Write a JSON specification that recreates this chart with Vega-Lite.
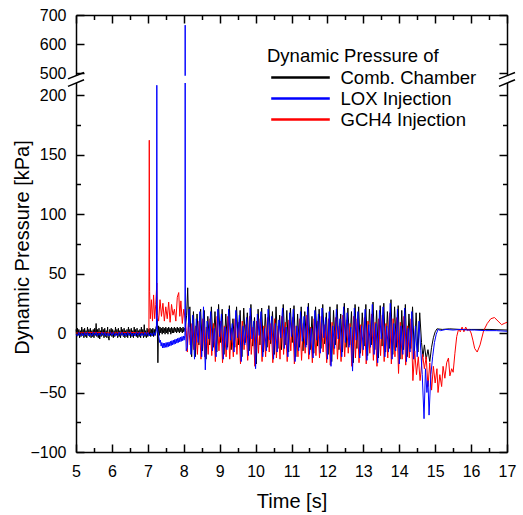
{
"$schema": "https://vega.github.io/schema/vega-lite/v6.json",
"width": 431, "height": 437,
"autosize": {"type": "none"},
"padding": {"left": 76, "top": 15, "right": 16, "bottom": 63},
"background": "white",
"config": {
  "view": {"stroke": null},
  "font": "Liberation Sans",
  "mark": {"invalid": "filter"},
  "axis": {"grid": false, "domainColor": "black", "domainWidth": 1.5, "tickColor": "black", "tickWidth": 1.5, "labelColor": "black", "labelFont": "Liberation Sans", "labelFontSize": 16, "titleFont": "Liberation Sans", "titleFontSize": 20, "titleFontWeight": "normal", "titleColor": "black", "labelFlush": false, "labelOverlap": false}
},
"datasets": {
"c": [
{"t":5.00,"v":3},{"t":5.02,"v":-3},{"t":5.04,"v":4},{"t":5.06,"v":-2},{"t":5.08,"v":3},{"t":5.10,"v":-4},{"t":5.12,"v":2},{"t":5.14,"v":-3},{"t":5.16,"v":5},{"t":5.18,"v":-2},{"t":5.20,"v":3},{"t":5.22,"v":-4},{"t":5.24,"v":4},{"t":5.26,"v":-3},{"t":5.28,"v":2},{"t":5.30,"v":-4},{"t":5.32,"v":5},{"t":5.34,"v":-2},{"t":5.36,"v":3},{"t":5.38,"v":-3},{"t":5.40,"v":4},{"t":5.42,"v":-4},{"t":5.44,"v":2},{"t":5.46,"v":-3},{"t":5.48,"v":3},{"t":5.50,"v":-4},{"t":5.52,"v":4},{"t":5.54,"v":-2},{"t":5.56,"v":8},{"t":5.58,"v":-3},{"t":5.60,"v":3},{"t":5.62,"v":-4},{"t":5.64,"v":4},{"t":5.66,"v":-5},{"t":5.68,"v":2},{"t":5.70,"v":-3},{"t":5.72,"v":5},{"t":5.74,"v":-2},{"t":5.76,"v":3},{"t":5.78,"v":-4},{"t":5.80,"v":4},{"t":5.82,"v":-3},{"t":5.84,"v":2},{"t":5.86,"v":-4},{"t":5.88,"v":5},{"t":5.90,"v":-3},{"t":5.92,"v":-6},{"t":5.94,"v":3},{"t":5.96,"v":-2},{"t":5.98,"v":4},{"t":6.00,"v":-3},{"t":6.02,"v":3},{"t":6.04,"v":-4},{"t":6.06,"v":2},{"t":6.08,"v":-3},{"t":6.10,"v":5},{"t":6.12,"v":-2},{"t":6.14,"v":3},{"t":6.16,"v":-4},{"t":6.18,"v":4},{"t":6.20,"v":-3},{"t":6.22,"v":2},{"t":6.24,"v":-4},{"t":6.26,"v":5},{"t":6.28,"v":-2},{"t":6.30,"v":3},{"t":6.32,"v":-3},{"t":6.34,"v":4},{"t":6.36,"v":-4},{"t":6.38,"v":2},{"t":6.40,"v":-3},{"t":6.42,"v":3},{"t":6.44,"v":-4},{"t":6.46,"v":5},{"t":6.48,"v":-2},{"t":6.50,"v":3},{"t":6.52,"v":-4},{"t":6.54,"v":4},{"t":6.56,"v":-3},{"t":6.58,"v":2},{"t":6.60,"v":-4},{"t":6.62,"v":5},{"t":6.64,"v":-2},{"t":6.66,"v":3},{"t":6.68,"v":-3},{"t":6.70,"v":4},{"t":6.72,"v":-4},{"t":6.74,"v":2},{"t":6.76,"v":-3},{"t":6.78,"v":3},{"t":6.80,"v":-4},{"t":6.82,"v":5},{"t":6.84,"v":-2},{"t":6.86,"v":3},{"t":6.88,"v":-4},{"t":6.90,"v":7},{"t":6.92,"v":-3},{"t":6.94,"v":2},{"t":6.96,"v":-4},{"t":6.98,"v":4},{"t":7.00,"v":-3},{"t":7.02,"v":3},{"t":7.04,"v":-2},{"t":7.06,"v":4},{"t":7.08,"v":-3},{"t":7.10,"v":3},{"t":7.12,"v":-2},{"t":7.14,"v":4},{"t":7.16,"v":-3},{"t":7.18,"v":3},{"t":7.20,"v":-2},{"t":7.22,"v":4},{"t":7.24,"v":6},{"t":7.26,"v":12},{"t":7.28,"v":-25},
{"t":7.30,"v":6},{"t":7.32,"v":-2},{"t":7.34,"v":5},{"t":7.36,"v":0},{"t":7.38,"v":4},{"t":7.40,"v":-1},{"t":7.42,"v":5},{"t":7.44,"v":0},{"t":7.46,"v":4},{"t":7.48,"v":-1},{"t":7.50,"v":5},{"t":7.52,"v":0},{"t":7.54,"v":4},{"t":7.56,"v":-1},{"t":7.58,"v":5},{"t":7.60,"v":1},{"t":7.62,"v":4},{"t":7.64,"v":-1},{"t":7.66,"v":5},{"t":7.68,"v":0},{"t":7.70,"v":4},{"t":7.72,"v":0},{"t":7.74,"v":5},{"t":7.76,"v":1},{"t":7.78,"v":4},{"t":7.80,"v":0},{"t":7.82,"v":5},{"t":7.84,"v":1},{"t":7.86,"v":4},{"t":7.88,"v":0},{"t":7.90,"v":5},{"t":7.92,"v":1},{"t":7.94,"v":4},{"t":7.96,"v":0},{"t":7.98,"v":5},{"t":8.00,"v":1},{"t":8.02,"v":4},{"t":8.04,"v":2},{"t":8.08,"v":15},{"t":8.11,"v":38},{"t":8.14,"v":5},
{"t":8.17,"v":22},{"t":8.22,"v":-20},{"t":8.27,"v":18},{"t":8.32,"v":-20},{"t":8.37,"v":16},{"t":8.42,"v":-10},{"t":8.47,"v":20},{"t":8.52,"v":-15},{"t":8.57,"v":19},{"t":8.62,"v":-22},{"t":8.67,"v":14},{"t":8.72,"v":-10},{"t":8.77,"v":22},{"t":8.82,"v":-12},{"t":8.87,"v":18},{"t":8.92,"v":-16},{"t":8.97,"v":24},{"t":9.02,"v":-8},{"t":9.07,"v":20},{"t":9.12,"v":-18},{"t":9.17,"v":16},{"t":9.22,"v":-12},{"t":9.27,"v":23},{"t":9.32,"v":-14},{"t":9.37,"v":12},{"t":9.42,"v":-12},{"t":9.47,"v":22},{"t":9.52,"v":-10},{"t":9.57,"v":19},{"t":9.62,"v":-20},{"t":9.67,"v":21},{"t":9.72,"v":-8},{"t":9.77,"v":17},{"t":9.82,"v":-15},{"t":9.87,"v":24},{"t":9.92,"v":-11},{"t":9.97,"v":13},{"t":10.02,"v":-26},{"t":10.07,"v":20},{"t":10.12,"v":-10},{"t":10.17,"v":21},{"t":10.22,"v":-16},{"t":10.27,"v":16},{"t":10.32,"v":-12},{"t":10.37,"v":23},{"t":10.42,"v":-9},{"t":10.47,"v":18},{"t":10.52,"v":-18},{"t":10.57,"v":22},{"t":10.62,"v":-13},{"t":10.67,"v":15},{"t":10.72,"v":-14},{"t":10.77,"v":24},{"t":10.82,"v":-10},{"t":10.87,"v":19},{"t":10.92,"v":-16},{"t":10.97,"v":21},{"t":11.02,"v":-8},{"t":11.07,"v":23},{"t":11.12,"v":-20},{"t":11.17,"v":16},{"t":11.22,"v":-12},{"t":11.27,"v":22},{"t":11.32,"v":-15},{"t":11.37,"v":18},{"t":11.42,"v":-10},{"t":11.47,"v":25},{"t":11.52,"v":-14},{"t":11.57,"v":14},{"t":11.62,"v":-17},{"t":11.67,"v":22},{"t":11.72,"v":-11},{"t":11.77,"v":20},{"t":11.82,"v":-13},{"t":11.87,"v":24},{"t":11.92,"v":-9},{"t":11.97,"v":17},{"t":12.02,"v":-18},{"t":12.07,"v":22},{"t":12.12,"v":-24},{"t":12.17,"v":19},{"t":12.22,"v":-10},{"t":12.27,"v":24},{"t":12.32,"v":-14},{"t":12.37,"v":16},{"t":12.42,"v":-16},{"t":12.47,"v":25},{"t":12.52,"v":-12},{"t":12.57,"v":21},{"t":12.62,"v":-10},{"t":12.67,"v":18},{"t":12.72,"v":-25},{"t":12.77,"v":24},{"t":12.82,"v":-13},{"t":12.87,"v":22},{"t":12.92,"v":-17},{"t":12.97,"v":17},{"t":13.02,"v":-11},{"t":13.07,"v":24},{"t":13.12,"v":-19},{"t":13.17,"v":20},{"t":13.22,"v":-10},{"t":13.27,"v":26},{"t":13.32,"v":-14},{"t":13.37,"v":19},{"t":13.42,"v":-21},{"t":13.47,"v":23},{"t":13.52,"v":-11},{"t":13.57,"v":25},{"t":13.62,"v":-16},{"t":13.67,"v":18},{"t":13.72,"v":-13},{"t":13.77,"v":28},{"t":13.82,"v":-18},{"t":13.87,"v":22},{"t":13.92,"v":-12},{"t":13.97,"v":23},{"t":14.02,"v":-22},{"t":14.07,"v":19},{"t":14.12,"v":-14},{"t":14.17,"v":24},{"t":14.22,"v":-20},{"t":14.27,"v":16},{"t":14.32,"v":-13},{"t":14.37,"v":22},{"t":14.42,"v":-18},{"t":14.47,"v":17},{"t":14.52,"v":-16},{"t":14.57,"v":17},{"t":14.62,"v":-8},
{"t":14.66,"v":-20},{"t":14.70,"v":-10},{"t":14.75,"v":-22},{"t":14.80,"v":-14},{"t":14.85,"v":-24},{"t":14.90,"v":-12},{"t":14.95,"v":-4},{"t":15.00,"v":1},{"t":15.05,"v":3.5},{"t":15.20,"v":3},{"t":15.40,"v":3.5},{"t":15.70,"v":3},{"t":16.00,"v":3},{"t":16.50,"v":3},{"t":17.00,"v":2.5}
],
"l": [
{"t":5.00,"v":-1},{"t":5.04,"v":-2.5},{"t":5.08,"v":0.5},{"t":5.12,"v":-2.5},{"t":5.16,"v":0},{"t":5.20,"v":-2.5},{"t":5.24,"v":0.5},{"t":5.28,"v":-2},{"t":5.32,"v":0.5},{"t":5.36,"v":-2.5},{"t":5.40,"v":0},{"t":5.44,"v":-2.5},{"t":5.48,"v":0.5},{"t":5.52,"v":-2},{"t":5.56,"v":0.5},{"t":5.60,"v":-2.5},{"t":5.64,"v":0},{"t":5.68,"v":-2.5},{"t":5.72,"v":0.5},{"t":5.76,"v":-2},{"t":5.80,"v":0.5},{"t":5.84,"v":-2.5},{"t":5.88,"v":0},{"t":5.92,"v":-2.5},{"t":5.96,"v":0.5},{"t":6.00,"v":-2},{"t":6.04,"v":0.5},{"t":6.08,"v":-2.5},{"t":6.12,"v":0},{"t":6.16,"v":-2.5},{"t":6.20,"v":0.5},{"t":6.24,"v":-2},{"t":6.28,"v":0.5},{"t":6.32,"v":-2.5},{"t":6.36,"v":0},{"t":6.40,"v":-2.5},{"t":6.44,"v":0.5},{"t":6.48,"v":-2},{"t":6.52,"v":0.5},{"t":6.56,"v":-2.5},{"t":6.60,"v":0},{"t":6.64,"v":-2.5},{"t":6.68,"v":0.5},{"t":6.72,"v":-2},{"t":6.76,"v":0.5},{"t":6.80,"v":-2.5},{"t":6.84,"v":0},{"t":6.88,"v":-2.5},{"t":6.92,"v":0.5},{"t":6.96,"v":-2},{"t":7.00,"v":0.5},{"t":7.04,"v":-2.5},{"t":7.08,"v":0},{"t":7.12,"v":-2.5},{"t":7.16,"v":0.5},{"t":7.20,"v":-2},{"t":7.22,"v":0},{"t":7.24,"v":3},{"t":7.25,"v":215},{"t":7.26,"v":5},
{"t":7.29,"v":0},{"t":7.31,"v":-4},{"t":7.33,"v":-8},{"t":7.35,"v":-6},{"t":7.37,"v":-11},{"t":7.39,"v":-8},{"t":7.41,"v":-12.5},{"t":7.43,"v":-8.5},{"t":7.45,"v":-12.5},{"t":7.47,"v":-8.5},{"t":7.49,"v":-12},{"t":7.51,"v":-8},{"t":7.53,"v":-12},{"t":7.55,"v":-8},{"t":7.57,"v":-11.5},{"t":7.59,"v":-7.5},{"t":7.61,"v":-11},{"t":7.63,"v":-7},{"t":7.65,"v":-10.5},{"t":7.67,"v":-6.5},{"t":7.69,"v":-10},{"t":7.71,"v":-6},{"t":7.73,"v":-9.5},{"t":7.75,"v":-5.5},{"t":7.77,"v":-9},{"t":7.79,"v":-5},{"t":7.81,"v":-8.5},{"t":7.83,"v":-4.5},{"t":7.85,"v":-8},{"t":7.87,"v":-4},{"t":7.89,"v":-7.5},{"t":7.91,"v":-3.5},{"t":7.93,"v":-7},{"t":7.95,"v":-3},{"t":7.97,"v":-6.5},{"t":7.99,"v":-2.5},{"t":8.01,"v":-6},{"t":8.03,"v":-2},{"t":8.035,"v":0},{"t":8.04,"v":665},{"t":8.045,"v":10},{"t":8.07,"v":-15},{"t":8.10,"v":-12},{"t":8.125,"v":5},
{"t":8.15,"v":20},{"t":8.20,"v":-18},{"t":8.25,"v":15},{"t":8.30,"v":-22},{"t":8.35,"v":12},{"t":8.40,"v":-8},{"t":8.45,"v":18},{"t":8.50,"v":-20},{"t":8.55,"v":22},{"t":8.60,"v":-31},{"t":8.65,"v":10},{"t":8.70,"v":-5},{"t":8.75,"v":18},{"t":8.80,"v":-15},{"t":8.85,"v":4},{"t":8.90,"v":-20},{"t":8.95,"v":20},{"t":9.00,"v":-3},{"t":9.05,"v":16},{"t":9.10,"v":-22},{"t":9.15,"v":5},{"t":9.20,"v":-14},{"t":9.25,"v":20},{"t":9.30,"v":-6},{"t":9.35,"v":8},{"t":9.40,"v":-16},{"t":9.45,"v":19},{"t":9.50,"v":-4},{"t":9.55,"v":15},{"t":9.60,"v":-24},{"t":9.65,"v":6},{"t":9.70,"v":-10},{"t":9.75,"v":13},{"t":9.80,"v":-19},{"t":9.85,"v":21},{"t":9.90,"v":-5},{"t":9.95,"v":10},{"t":10.00,"v":-30},{"t":10.05,"v":16},{"t":10.10,"v":-2},{"t":10.15,"v":18},{"t":10.20,"v":-20},{"t":10.25,"v":4},{"t":10.30,"v":-15},{"t":10.35,"v":20},{"t":10.40,"v":-6},{"t":10.45,"v":14},{"t":10.50,"v":-22},{"t":10.55,"v":8},{"t":10.60,"v":-16},{"t":10.65,"v":11},{"t":10.70,"v":-4},{"t":10.75,"v":21},{"t":10.80,"v":-13},{"t":10.85,"v":5},{"t":10.90,"v":-20},{"t":10.95,"v":17},{"t":11.00,"v":-3},{"t":11.05,"v":20},{"t":11.10,"v":-24},{"t":11.15,"v":6},{"t":11.20,"v":-15},{"t":11.25,"v":18},{"t":11.30,"v":-7},{"t":11.35,"v":14},{"t":11.40,"v":-12},{"t":11.45,"v":22},{"t":11.50,"v":-18},{"t":11.55,"v":4},{"t":11.60,"v":-21},{"t":11.65,"v":19},{"t":11.70,"v":-6},{"t":11.75,"v":16},{"t":11.80,"v":-17},{"t":11.85,"v":21},{"t":11.90,"v":-4},{"t":11.95,"v":13},{"t":12.00,"v":-22},{"t":12.05,"v":18},{"t":12.10,"v":-28},{"t":12.15,"v":6},{"t":12.20,"v":-13},{"t":12.25,"v":20},{"t":12.30,"v":-5},{"t":12.35,"v":12},{"t":12.40,"v":-20},{"t":12.45,"v":22},{"t":12.50,"v":-8},{"t":12.55,"v":17},{"t":12.60,"v":-12},{"t":12.65,"v":5},{"t":12.70,"v":-32},{"t":12.75,"v":21},{"t":12.80,"v":-6},{"t":12.85,"v":18},{"t":12.90,"v":-21},{"t":12.95,"v":6},{"t":13.00,"v":-14},{"t":13.05,"v":20},{"t":13.10,"v":-23},{"t":13.15,"v":7},{"t":13.20,"v":-12},{"t":13.25,"v":24},{"t":13.30,"v":-18},{"t":13.35,"v":8},{"t":13.40,"v":-25},{"t":13.45,"v":19},{"t":13.50,"v":-5},{"t":13.55,"v":22},{"t":13.60,"v":-20},{"t":13.65,"v":6},{"t":13.70,"v":-16},{"t":13.75,"v":25},{"t":13.80,"v":-22},{"t":13.85,"v":8},{"t":13.90,"v":-15},{"t":13.95,"v":20},{"t":14.00,"v":-26},{"t":14.05,"v":6},{"t":14.10,"v":-18},{"t":14.15,"v":21},{"t":14.20,"v":-24},{"t":14.25,"v":4},{"t":14.30,"v":-16},{"t":14.35,"v":18},{"t":14.40,"v":-22},{"t":14.45,"v":6},{"t":14.50,"v":-20},{"t":14.55,"v":10},{"t":14.60,"v":-15},
{"t":14.64,"v":-35},{"t":14.69,"v":-72},{"t":14.73,"v":-30},{"t":14.77,"v":-50},{"t":14.80,"v":-40},{"t":14.83,"v":-69},{"t":14.88,"v":-35},{"t":14.93,"v":-20},{"t":14.98,"v":-8},{"t":15.03,"v":-1},{"t":15.08,"v":3},{"t":15.15,"v":2},{"t":15.30,"v":3},{"t":15.50,"v":2.5},{"t":15.70,"v":3},{"t":15.90,"v":2.5},{"t":16.10,"v":2.5},{"t":16.40,"v":2},{"t":16.70,"v":2},{"t":17.00,"v":1.5}
],
"g": [
{"t":5.00,"v":0},{"t":5.50,"v":0.5},{"t":6.00,"v":0},{"t":6.50,"v":0.5},{"t":7.00,"v":0},{"t":7.03,"v":0.5},{"t":7.04,"v":162},{"t":7.05,"v":35},{"t":7.07,"v":12},{"t":7.10,"v":28},{"t":7.13,"v":10},{"t":7.16,"v":32},{"t":7.19,"v":12},{"t":7.22,"v":24},{"t":7.25,"v":42},{"t":7.27,"v":15},{"t":7.30,"v":10},{"t":7.34,"v":28},{"t":7.38,"v":14},{"t":7.42,"v":25},{"t":7.46,"v":10},{"t":7.50,"v":22},{"t":7.54,"v":12},{"t":7.58,"v":26},{"t":7.62,"v":9},{"t":7.66,"v":24},{"t":7.70,"v":15},{"t":7.74,"v":20},{"t":7.78,"v":10},{"t":7.82,"v":30},{"t":7.86,"v":34},{"t":7.89,"v":14},{"t":7.92,"v":27},{"t":7.96,"v":8},{"t":8.00,"v":20},{"t":8.04,"v":12},{"t":8.07,"v":2},{"t":8.10,"v":-16},
{"t":8.13,"v":8},{"t":8.18,"v":-10},{"t":8.23,"v":8},{"t":8.28,"v":-14},{"t":8.33,"v":6},{"t":8.38,"v":-18},{"t":8.43,"v":10},{"t":8.48,"v":-22},{"t":8.53,"v":12},{"t":8.58,"v":-20},{"t":8.63,"v":5},{"t":8.68,"v":-18},{"t":8.73,"v":12},{"t":8.78,"v":-19},{"t":8.83,"v":8},{"t":8.88,"v":-24},{"t":8.93,"v":14},{"t":8.98,"v":-15},{"t":9.03,"v":10},{"t":9.08,"v":-25},{"t":9.13,"v":6},{"t":9.18,"v":-20},{"t":9.23,"v":14},{"t":9.28,"v":-22},{"t":9.33,"v":4},{"t":9.38,"v":-20},{"t":9.43,"v":12},{"t":9.48,"v":-18},{"t":9.53,"v":9},{"t":9.58,"v":-26},{"t":9.63,"v":10},{"t":9.68,"v":-14},{"t":9.73,"v":7},{"t":9.78,"v":-23},{"t":9.83,"v":14},{"t":9.88,"v":-18},{"t":9.93,"v":5},{"t":9.98,"v":-28},{"t":10.03,"v":10},{"t":10.08,"v":-17},{"t":10.13,"v":12},{"t":10.18,"v":-24},{"t":10.23,"v":6},{"t":10.28,"v":-20},{"t":10.33,"v":13},{"t":10.38,"v":-16},{"t":10.43,"v":8},{"t":10.48,"v":-25},{"t":10.53,"v":12},{"t":10.58,"v":-21},{"t":10.63,"v":6},{"t":10.68,"v":-22},{"t":10.73,"v":14},{"t":10.78,"v":-18},{"t":10.83,"v":9},{"t":10.88,"v":-24},{"t":10.93,"v":11},{"t":10.98,"v":-15},{"t":11.03,"v":13},{"t":11.08,"v":-26},{"t":11.13,"v":6},{"t":11.18,"v":-20},{"t":11.23,"v":12},{"t":11.28,"v":-23},{"t":11.33,"v":8},{"t":11.38,"v":-17},{"t":11.43,"v":15},{"t":11.48,"v":-22},{"t":11.53,"v":5},{"t":11.58,"v":-25},{"t":11.63,"v":12},{"t":11.68,"v":-19},{"t":11.73,"v":10},{"t":11.78,"v":-21},{"t":11.83,"v":14},{"t":11.88,"v":-16},{"t":11.93,"v":7},{"t":11.98,"v":-25},{"t":12.03,"v":12},{"t":12.08,"v":-27},{"t":12.13,"v":9},{"t":12.18,"v":-18},{"t":12.23,"v":13},{"t":12.28,"v":-22},{"t":12.33,"v":6},{"t":12.38,"v":-24},{"t":12.43,"v":15},{"t":12.48,"v":-20},{"t":12.53,"v":11},{"t":12.58,"v":-17},{"t":12.63,"v":8},{"t":12.68,"v":-28},{"t":12.73,"v":14},{"t":12.78,"v":-21},{"t":12.83,"v":12},{"t":12.88,"v":-25},{"t":12.93,"v":7},{"t":12.98,"v":-19},{"t":13.03,"v":13},{"t":13.08,"v":-26},{"t":13.13,"v":10},{"t":13.18,"v":-17},{"t":13.23,"v":16},{"t":13.28,"v":-23},{"t":13.33,"v":9},{"t":13.38,"v":-28},{"t":13.43,"v":12},{"t":13.48,"v":-19},{"t":13.53,"v":15},{"t":13.58,"v":-24},{"t":13.63,"v":8},{"t":13.68,"v":-21},{"t":13.73,"v":17},{"t":13.78,"v":-26},{"t":13.83,"v":12},{"t":13.88,"v":-20},{"t":13.93,"v":13},{"t":13.98,"v":-34},{"t":14.03,"v":9},{"t":14.08,"v":-22},{"t":14.13,"v":14},{"t":14.18,"v":-27},{"t":14.23,"v":6},{"t":14.28,"v":-21},{"t":14.33,"v":12},{"t":14.38,"v":-40},{"t":14.43,"v":-15},{"t":14.48,"v":-35},{"t":14.53,"v":-20},{"t":14.58,"v":-40},
{"t":14.65,"v":-18},{"t":14.70,"v":-30},{"t":14.75,"v":-20},{"t":14.80,"v":-45},{"t":14.85,"v":-25},{"t":14.90,"v":-48},{"t":14.95,"v":-28},{"t":15.00,"v":-42},{"t":15.05,"v":-30},{"t":15.08,"v":-50},{"t":15.13,"v":-35},{"t":15.18,"v":-45},{"t":15.22,"v":-28},{"t":15.27,"v":-38},{"t":15.32,"v":-25},{"t":15.37,"v":-21},{"t":15.41,"v":-36},{"t":15.46,"v":-30},{"t":15.50,"v":-33},{"t":15.55,"v":-17},{"t":15.60,"v":-3},{"t":15.65,"v":3},{"t":15.70,"v":1},{"t":15.75,"v":5},{"t":15.80,"v":1},{"t":15.85,"v":5},{"t":15.90,"v":2},{"t":15.95,"v":3},{"t":16.00,"v":0},{"t":16.05,"v":-6},{"t":16.10,"v":-13},{"t":16.17,"v":-16},{"t":16.25,"v":-10},{"t":16.35,"v":2},{"t":16.45,"v":8},{"t":16.55,"v":12},{"t":16.65,"v":13},{"t":16.75,"v":10},{"t":16.85,"v":7},{"t":16.92,"v":8},{"t":17.00,"v":9}
]
},
"resolve": {"axis": {"x": "independent", "y": "independent"}},
"layer": [
{
  "data": {"name": "c"},
  "mark": {"type": "line", "strokeWidth": 1},
  "encoding": {
    "x": {"field": "t", "type": "quantitative", "scale": {"domain": [5, 17], "nice": false, "zero": false},
      "axis": {"orient": "bottom", "values": [5,6,7,8,9,10,11,12,13,14,15,16,17], "tickSize": -8, "labelPadding": 19, "title": "Time [s]", "titleY": 55, "titleBaseline": "alphabetic"}},
    "y": {"field": "v", "type": "quantitative", "scale": {"domain": [-100, 208, 490, 700], "range": [437, 70.5, 61, 0], "nice": false, "zero": false},
      "axis": {"orient": "left", "values": [-100,-50,0,50,100,150,200,500,600,700], "tickSize": -8, "labelPadding": 18, "title": "Dynamic Pressure [kPa]", "titleX": -48, "titleY": 232, "titleAngle": -90, "titleBaseline": "alphabetic", "titleAlign": "center"}},
    "color": {"datum": "Comb. Chamber", "type": "nominal",
      "scale": {"domain": ["Comb. Chamber", "LOX Injection", "GCH4 Injection"], "range": ["#000000", "#0000ff", "#ff0000"]},
      "legend": {"orient": "none", "legendX": 191, "legendY": 31.5, "title": "Dynamic Pressure of", "titleFontSize": 18.5, "titleFontWeight": "normal", "titleColor": "black", "titleFont": "Liberation Sans", "titlePadding": 1, "labelFontSize": 18.5, "labelFont": "Liberation Sans", "labelColor": "black", "symbolType": "M-3,0H3", "symbolSize": 381, "symbolStrokeWidth": 2.5, "symbolOffset": 22, "labelOffset": 28.5, "rowPadding": 0, "padding": 0}}
  }
},
{
  "data": {"name": "g"},
  "mark": {"type": "line", "strokeWidth": 1},
  "encoding": {
    "x": {"field": "t", "type": "quantitative",
      "axis": {"orient": "bottom", "values": [5.5,6.5,7.5,8.5,9.5,10.5,11.5,12.5,13.5,14.5,15.5,16.5], "tickSize": -4.5, "labels": false, "domain": false, "title": null}},
    "y": {"field": "v", "type": "quantitative",
      "axis": {"orient": "left", "values": [-75,-25,25,75,125,175], "tickSize": -4.5, "labels": false, "domain": false, "title": null}},
    "color": {"datum": "GCH4 Injection", "type": "nominal"}
  }
},
{
  "data": {"name": "l"},
  "mark": {"type": "line", "strokeWidth": 1},
  "encoding": {
    "x": {"field": "t", "type": "quantitative",
      "axis": {"orient": "top", "values": [5,6,7,8,9,10,11,12,13,14,15,16,17], "tickSize": -8, "labels": false, "domain": true, "title": null}},
    "y": {"field": "v", "type": "quantitative",
      "axis": {"orient": "right", "values": [-100,-50,0,50,100,150,200,500,600,700], "tickSize": -8, "labels": false, "domain": true, "title": null}},
    "color": {"datum": "LOX Injection", "type": "nominal"}
  }
},
{
  "data": {"values": [{}]},
  "mark": {"type": "rect", "color": "white"},
  "encoding": {
    "x": {"datum": 4.95, "type": "quantitative",
      "axis": {"orient": "top", "values": [5.5,6.5,7.5,8.5,9.5,10.5,11.5,12.5,13.5,14.5,15.5,16.5], "tickSize": -4.5, "labels": false, "domain": false, "title": null}},
    "x2": {"datum": 17.05},
    "y": {"datum": 282, "type": "quantitative",
      "axis": {"orient": "right", "values": [-75,-25,25,75,125,175], "tickSize": -4.5, "labels": false, "domain": false, "title": null}},
    "y2": {"datum": 491}
  }
},
{
  "data": {"values": [{}]},
  "mark": {"type": "rule", "color": "black", "strokeWidth": 1.5},
  "encoding": {
    "x": {"datum": 4.777, "type": "quantitative", "axis": null}, "x2": {"datum": 5.223},
    "y": {"datum": 404, "type": "quantitative", "axis": null}, "y2": {"datum": 502}
  }
},
{
  "data": {"values": [{}]},
  "mark": {"type": "rule", "color": "black", "strokeWidth": 1.5},
  "encoding": {
    "x": {"datum": 4.777, "type": "quantitative", "axis": null}, "x2": {"datum": 5.223},
    "y": {"datum": 207.3, "type": "quantitative", "axis": null}, "y2": {"datum": 377}
  }
},
{
  "data": {"values": [{}]},
  "mark": {"type": "rule", "color": "black", "strokeWidth": 1.5},
  "encoding": {
    "x": {"datum": 16.777, "type": "quantitative", "axis": null}, "x2": {"datum": 17.223},
    "y": {"datum": 404, "type": "quantitative", "axis": null}, "y2": {"datum": 502}
  }
},
{
  "data": {"values": [{}]},
  "mark": {"type": "rule", "color": "black", "strokeWidth": 1.5},
  "encoding": {
    "x": {"datum": 16.777, "type": "quantitative", "axis": null}, "x2": {"datum": 17.223},
    "y": {"datum": 207.3, "type": "quantitative", "axis": null}, "y2": {"datum": 377}
  }
}
]
}
